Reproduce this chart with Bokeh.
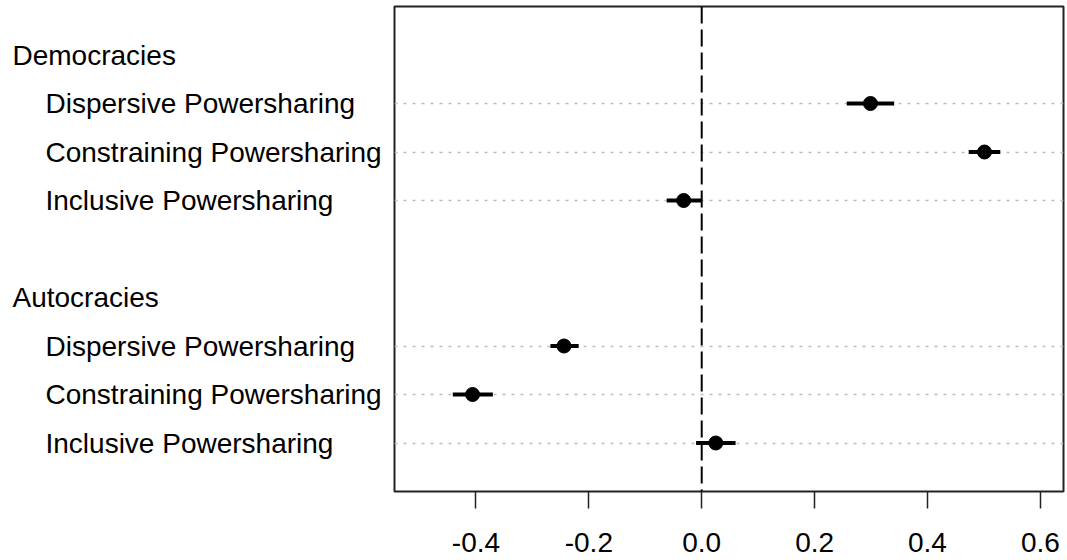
from bokeh.plotting import figure
from bokeh.layouts import row
from bokeh.models import Range1d, FixedTicker, Span, ColumnDataSource
from bokeh.core.properties import value
from bokeh.embed import file_html
from bokeh.resources import INLINE

# ---- data ----
groups = ["Democracies", "Autocracies"]
group_rows = [1, 6]
items = ["Dispersive Powersharing", "Constraining Powersharing", "Inclusive Powersharing",
         "Dispersive Powersharing", "Constraining Powersharing", "Inclusive Powersharing"]
item_rows = [2, 3, 4, 7, 8, 9]
estimates = [0.299, 0.501, -0.032, -0.244, -0.406, 0.025]
ci_low = [0.257, 0.473, -0.062, -0.268, -0.441, -0.010]
ci_high = [0.341, 0.529, 0.000, -0.218, -0.370, 0.060]
x_ticks = [-0.4, -0.2, 0.0, 0.2, 0.4, 0.6]
x_tick_labels = ["-0.4", "-0.2", "0.0", "0.2", "0.4", "0.6"]

FONT = "Liberation Sans"
FS = "28px"

H = 560
TOP = 6
BOTTOM = 69
LEFT_W = 392

y_range = Range1d(10, 0)

# ---- left label panel ----
lab = figure(width=LEFT_W, height=H, output_backend="svg", toolbar_location=None,
             x_range=Range1d(0, LEFT_W), y_range=y_range,
             min_border_left=0, min_border_right=0, min_border_top=TOP,
             min_border_bottom=BOTTOM, x_axis_location=None, y_axis_location=None)
lab.outline_line_color = None
lab.xgrid.visible = False
lab.ygrid.visible = False
lab.text(x=[12] * len(groups), y=group_rows, text=groups, text_font=value(FONT),
         text_font_size=FS, text_baseline="middle", text_align="left", text_color="black")
lab.text(x=[45] * len(items), y=item_rows, text=items, text_font=value(FONT),
         text_font_size=FS, text_baseline="middle", text_align="left", text_color="black")

# ---- main panel ----
x_lo, x_hi = -0.5443, 0.6410
p = figure(width=1066 - LEFT_W, height=H, output_backend="svg", toolbar_location=None,
           x_range=Range1d(x_lo, x_hi), y_range=y_range,
           min_border_left=2, min_border_right=3, min_border_top=TOP,
           min_border_bottom=BOTTOM, y_axis_location=None)

p.outline_line_color = "#222222"
p.outline_line_width = 2

p.xgrid.visible = False
p.ygrid.ticker = FixedTicker(ticks=item_rows)
p.ygrid.grid_line_color = "#bdbdbd"
p.ygrid.grid_line_dash = "3 6"
p.ygrid.grid_line_width = 1.5

xa = p.xaxis[0]
xa.ticker = FixedTicker(ticks=x_ticks)
xa.major_label_overrides = {t: l for t, l in zip(x_ticks, x_tick_labels)}
xa.axis_line_color = None
xa.major_tick_in = 0
xa.major_tick_out = 17
xa.major_tick_line_width = 1.5
xa.major_tick_line_color = "#222222"
xa.minor_tick_line_color = None
xa.major_label_text_font = FONT
xa.major_label_text_font_size = FS
xa.major_label_text_color = "black"
xa.major_label_standoff = 24

p.add_layout(Span(location=0, dimension="height", line_color="black",
                  line_width=2, line_dash="17 6"))

src = ColumnDataSource(dict(y=item_rows, est=estimates, lo=ci_low, hi=ci_high))
p.segment(x0="lo", x1="hi", y0="y", y1="y", source=src, line_color="black", line_width=4)
p.scatter(x="est", y="y", source=src, size=14, fill_color="black", line_color="black")

layout = row(lab, p, spacing=0)
open("out.html", "w").write(file_html(layout, INLINE))
